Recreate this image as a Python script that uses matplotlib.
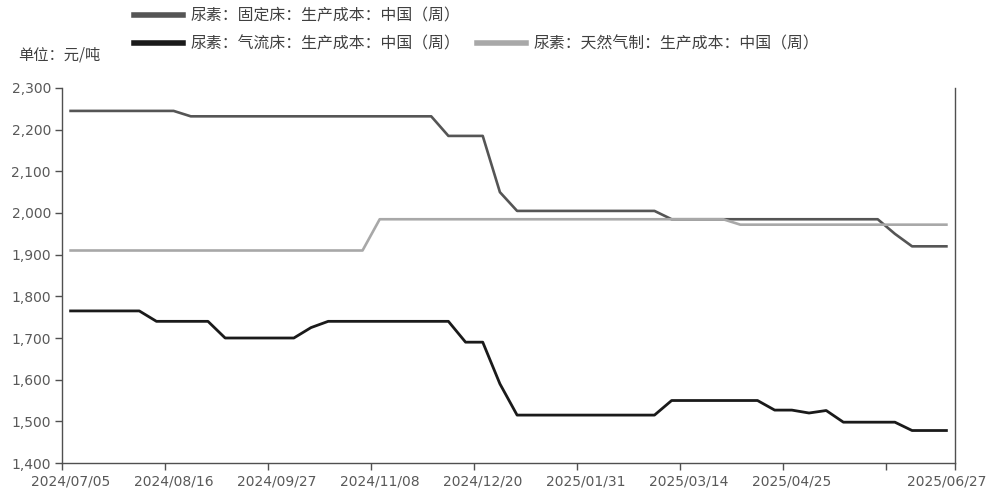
import numpy as np
import pandas as pd
import matplotlib
matplotlib.use('Agg')
import matplotlib.pyplot as plt

plt.rcParams['font.family'] = ['Noto Sans CJK SC', 'DejaVu Sans']

# 周度数据：2024/07/05 - 2025/06/27
dates = pd.date_range('2024-07-05', '2025-06-27', freq='7D')

fixed_bed = ([2245] * 7 + [2232] * 15 + [2185] * 3 + [2050] + [2005] * 9
             + [1985] * 13 + [1950] + [1920] * 3)
entrained_bed = ([1765] * 5 + [1740] * 4 + [1700] * 5 + [1725] + [1740] * 8
                 + [1690] * 2 + [1590] + [1515] * 9 + [1550] * 6 + [1527] * 2
                 + [1520, 1526] + [1498] * 4 + [1478] * 3)
natural_gas = [1910] * 18 + [1985] * 21 + [1972] * 13

names = ['尿素：固定床：生产成本：中国（周）',
         '尿素：气流床：生产成本：中国（周）',
         '尿素：天然气制：生产成本：中国（周）']
colors = ['#555555', '#1a1a1a', '#a8a8a8']

fig = plt.figure(figsize=(9.92, 4.96), dpi=100)
ax = fig.add_axes([0.0625, 0.0665, 0.9002, 0.7561])

# 类别轴：数据点在每周的中间
x = np.arange(len(dates)) + 0.5
l1, = ax.plot(x, fixed_bed, color=colors[0], lw=1.9, label=names[0])
l2, = ax.plot(x, entrained_bed, color=colors[1], lw=2.0, label=names[1])
l3, = ax.plot(x, natural_gas, color=colors[2], lw=1.9, label=names[2])

ax.set_xlim(0, len(dates))
ax.set_ylim(1400, 2300)
ax.set_yticks(np.arange(1400, 2301, 100))
ax.set_yticklabels(['{:,.0f}'.format(v) for v in np.arange(1400, 2301, 100)])

# 刻度线在类别边界，标签在类别中间
label_idx = list(range(0, 43, 6)) + [len(dates) - 1]
ax.set_xticks(list(range(0, 49, 6)) + [len(dates)])
ax.set_xticklabels([])
ax.set_xticks([i + 0.5 for i in label_idx],
              [dates[i].strftime('%Y/%m/%d') for i in label_idx], minor=True)

for s in ['left', 'bottom', 'right']:
    ax.spines[s].set_color('#505050')
    ax.spines[s].set_linewidth(1.0)
ax.spines['top'].set_visible(False)
ax.tick_params(axis='both', which='major', direction='out', length=5, width=1,
               color='#505050', labelcolor='#595959', labelsize=10, pad=3)
ax.tick_params(axis='x', which='minor', length=0, pad=8,
               labelcolor='#595959', labelsize=10)
for lab in ax.get_xticklabels(minor=True) + ax.get_yticklabels():
    lab.set_fontfamily('DejaVu Sans')

# 图例
leg1 = fig.legend(handles=[l1], loc='center left', bbox_to_anchor=(0.135, 0.968),
                  frameon=False, fontsize=11.4, handlelength=3.1, handletextpad=0.5,
                  borderaxespad=0, borderpad=0, labelcolor='#404040')
leg2 = fig.legend(handles=[l2, l3], loc='center left', bbox_to_anchor=(0.135, 0.912),
                  ncol=2, frameon=False, fontsize=11.4, handlelength=3.1,
                  handletextpad=0.5, columnspacing=1.0, borderaxespad=0,
                  borderpad=0, labelcolor='#404040')
for leg in (leg1, leg2):
    for h in leg.legend_handles:
        h.set_linewidth(4)

fig.text(0.018, 0.889, '单位：元/吨', fontsize=11, color='#404040', va='center')

plt.savefig('out.png', dpi=100)
